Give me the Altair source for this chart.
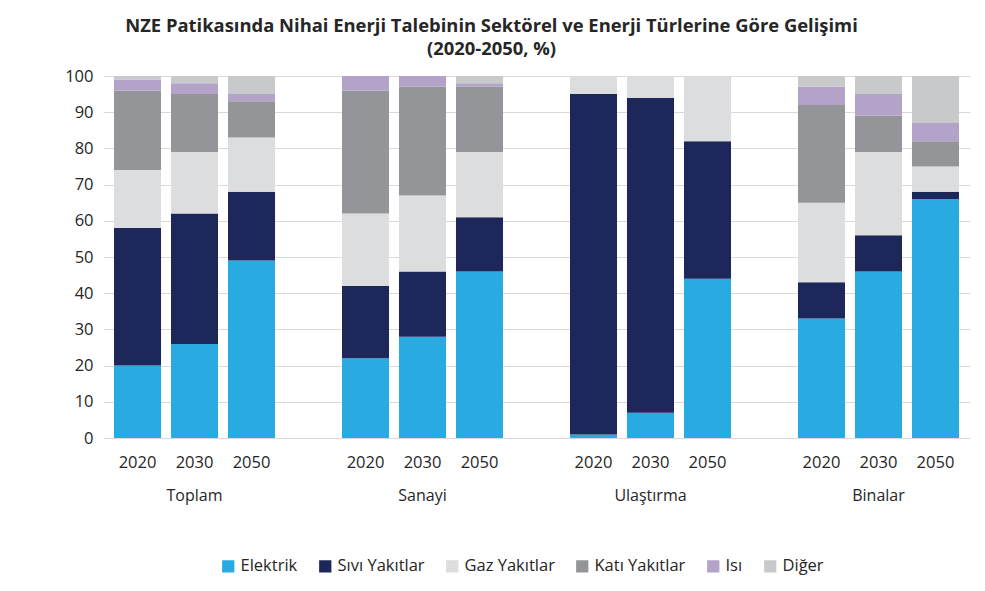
import altair as alt
import pandas as pd

sectors = ["Toplam", "Sanayi", "Ulaştırma", "Binalar"]
years = ["2020", "2030", "2050"]
fuels = ["Elektrik", "Sıvı Yakıtlar", "Gaz Yakıtlar", "Katı Yakıtlar", "Isı", "Diğer"]
colors = ["#29abe2", "#1e2759", "#dcdddf", "#939598", "#b3a3c9", "#c8c9cb"]

# values per fuel, order: sector x year
elektrik = [20, 26, 49, 22, 28, 46, 1, 7, 44, 33, 46, 66]
sivi = [38, 36, 19, 20, 18, 15, 94, 87, 38, 10, 10, 2]
gaz = [16, 17, 15, 20, 21, 18, 5, 6, 18, 22, 23, 7]
kati = [22, 16, 10, 34, 30, 18, 0, 0, 0, 27, 10, 7]
isi = [3, 3, 2, 4, 3, 1, 0, 0, 0, 5, 6, 5]
diger = [1, 2, 5, 0, 0, 2, 0, 0, 0, 3, 5, 13]

series = [elektrik, sivi, gaz, kati, isi, diger]
rows = []
for fi, (fuel, vals) in enumerate(zip(fuels, series)):
    k = 0
    for s in sectors:
        for y in years:
            rows.append({"Sektör": s, "Yıl": y, "Anahtar": s + "|" + y,
                         "Tür": fuel, "Sıra": fi, "Değer": vals[k]})
            k += 1
df = pd.DataFrame(rows)

# x domain: each sector's years, with an empty slot between sectors
domain = []
for i, s in enumerate(sectors):
    domain += [s + "|" + y for y in years]
    if i < len(sectors) - 1:
        domain.append("gap" + str(i))

labels_df = pd.DataFrame({"Sektör": sectors, "Anahtar": [s + "|" + years[1] for s in sectors]})

FONT = "Open Sans"
TXT = "#262626"
H = 362

xscale = alt.Scale(domain=domain, paddingInner=0.175, paddingOuter=0.193)

bars = alt.Chart(df).mark_bar().encode(
    x=alt.X("Anahtar:N", scale=xscale, title=None,
            axis=alt.Axis(labelAngle=0, ticks=False, domain=False, labelPadding=16,
                          labelFontSize=16.5, labelColor=TXT, labelFont=FONT,
                          labelExpr="indexof(datum.label, '|') > 0 ? split(datum.label, '|')[1] : ''")),
    y=alt.Y("Değer:Q", stack="zero", title=None,
            scale=alt.Scale(domain=[0, 100]),
            axis=alt.Axis(values=list(range(0, 101, 10)), ticks=False, domain=False,
                          labelPadding=10, labelFontSize=16.5, labelColor=TXT,
                          labelFont=FONT, gridColor="#d9d9d9")),
    color=alt.Color("Tür:N", sort=fuels,
                    scale=alt.Scale(domain=fuels, range=colors),
                    legend=alt.Legend(title=None, orient="none", direction="horizontal",
                                      legendX=117, legendY=482,
                                      symbolType="square", symbolSize=150,
                                      symbolStrokeWidth=0,
                                      labelFontSize=16.5, labelFont=FONT,
                                      labelColor=TXT, columnPadding=19)),
    order=alt.Order("Sıra:Q", sort="ascending"),
)

group_labels = alt.Chart(labels_df).mark_text(
    font=FONT, fontSize=16, color=TXT, baseline="middle"
).encode(
    x=alt.X("Anahtar:N", scale=xscale),
    y=alt.value(H + 58),
    text="Sektör:N",
)

chart = alt.layer(bars, group_labels).properties(
    width=867, height=H,
    title=alt.TitleParams(
        ["NZE Patikasında Nihai Enerji Talebinin Sektörel ve Enerji Türlerine Göre Gelişimi",
         "(2020-2050, %)"],
        font=FONT, fontSize=18.4, fontWeight="bold", color=TXT,
        anchor="middle", offset=10, lineHeight=23, dx=-45),
    padding={"left": 56, "top": 8, "right": 4, "bottom": 5},
    background="white",
).configure_view(stroke=None)

chart.save("out.html", embed_options={"renderer": "svg", "actions": False})
